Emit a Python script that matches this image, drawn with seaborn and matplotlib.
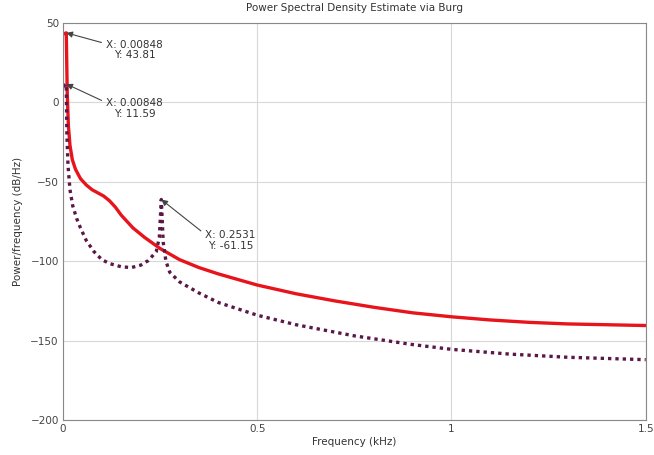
import matplotlib
matplotlib.use("Agg")
import matplotlib.pyplot as plt
import seaborn as sns
import pandas as pd

# Red solid curve (PSD estimate 1)
freq_red = [0.0, 0.00848, 0.011, 0.014, 0.018, 0.024, 0.032, 0.045, 0.06, 0.075, 0.09, 0.105,
            0.12, 0.135, 0.15, 0.18, 0.21, 0.25, 0.3, 0.35, 0.4, 0.5, 0.6, 0.7, 0.8, 0.9,
            1.0, 1.1, 1.2, 1.3, 1.4, 1.5]
psd_red = [43.0, 43.81, 5.0, -15.0, -27.0, -36.0, -42.0, -48.0, -52.0, -55.0, -57.0, -59.0,
           -62.0, -66.0, -71.0, -79.0, -85.0, -92.0, -99.0, -104.0, -108.0, -115.0, -120.5,
           -125.0, -129.0, -132.5, -135.0, -137.0, -138.5, -139.5, -140.0, -140.5]

# Dotted curve (PSD estimate 2)
freq_dot = [0.0, 0.00848, 0.010, 0.013, 0.018, 0.025, 0.035, 0.045, 0.06, 0.08, 0.1, 0.12,
            0.15, 0.176, 0.2, 0.22, 0.24, 0.248, 0.2531, 0.258, 0.265, 0.275, 0.3, 0.35,
            0.4, 0.5, 0.6, 0.75, 0.9, 1.0, 1.15, 1.3, 1.5]
psd_dot = [10.0, 11.59, -20.0, -40.0, -55.0, -65.0, -73.0, -79.0, -87.0, -94.0, -99.0, -101.5,
           -103.5, -104.0, -102.5, -99.5, -94.0, -85.0, -61.15, -88.0, -100.0, -107.0, -113.0,
           -120.0, -126.0, -134.0, -140.0, -147.0, -152.5, -155.5, -158.5, -160.5, -162.0]

title = "Power Spectral Density Estimate via Burg"
xlabel = "Frequency (kHz)"
ylabel = "Power/frequency (dB/Hz)"
xticks = [0, 0.5, 1, 1.5]
xticklabels = ["0", "0.5", "1", "1.5"]
yticks = [-200, -150, -100, -50, 0, 50]

datatips = [
    (0.00848, 43.81, "X: 0.00848\nY: 43.81"),
    (0.00848, 11.59, "X: 0.00848\nY: 11.59"),
    (0.2531, -61.15, "X: 0.2531\nY: -61.15"),
]
tip_text_pos = [(0.184, 33.0), (0.184, -4.0), (0.431, -87.0)]

sns.set_style("whitegrid")
plt.rcParams["font.family"] = ["DejaVu Sans"]

fig = plt.figure(figsize=(6.54, 4.55), dpi=100)
ax = fig.add_axes([0.0963, 0.0769, 0.891, 0.8725])

df_red = pd.DataFrame({"f": freq_red, "p": psd_red})
df_dot = pd.DataFrame({"f": freq_dot, "p": psd_dot})

sns.lineplot(data=df_red, x="f", y="p", ax=ax, color="#e8141c", linewidth=2.4,
             sort=False, estimator=None)
sns.lineplot(data=df_dot, x="f", y="p", ax=ax, color="#5a1848", linewidth=2.4,
             linestyle=(0, (1, 1.2)), sort=False, estimator=None)

ax.set_xlim(0, 1.5)
ax.set_ylim(-200, 50)
ax.set_xticks(xticks)
ax.set_xticklabels(xticklabels)
ax.set_yticks(yticks)
ax.tick_params(labelsize=7.5, colors="#444444", length=0, pad=3)
ax.grid(True, color="#d8d8d8", linewidth=0.8)
for s in ax.spines.values():
    s.set_visible(True)
    s.set_color("#888888")
    s.set_linewidth(0.8)
ax.set_title(title, fontsize=7.5, color="#333333", pad=9)
ax.set_xlabel(xlabel, fontsize=7.5, color="#333333", labelpad=2)
ax.set_ylabel(ylabel, fontsize=7.5, color="#333333", labelpad=5)

for (x, y, txt), (tx, ty) in zip(datatips, tip_text_pos):
    ax.annotate(txt, xy=(x, y), xytext=(tx, ty), fontsize=7.5, color="#333333",
                ha="center", va="center", linespacing=1.1,
                arrowprops=dict(arrowstyle="-|>", color="#444444", lw=0.8,
                                relpos=(0.0, 0.8), shrinkA=1, shrinkB=0,
                                mutation_scale=9))

fig.savefig("out.png", dpi=100)
